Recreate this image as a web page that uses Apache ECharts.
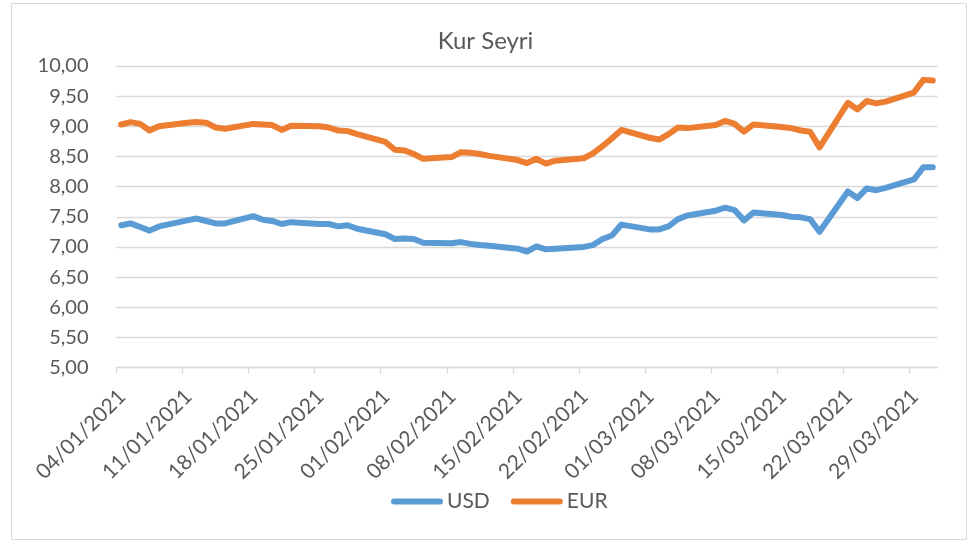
<!DOCTYPE html>
<html>
<head>
<meta charset="utf-8">
<script src="https://cdn.jsdelivr.net/npm/echarts@6/dist/echarts.min.js"></script>
<style>
html,body{margin:0;padding:0;background:#fff;}
#chart{width:971px;height:540px;}
</style>
</head>
<body>
<div id="chart"></div>
<script>
// Business days (dd/MM/yyyy)
const dates = [
  '04/01/2021','05/01/2021','06/01/2021','07/01/2021','08/01/2021',
  '11/01/2021','12/01/2021','13/01/2021','14/01/2021','15/01/2021',
  '18/01/2021','19/01/2021','20/01/2021','21/01/2021','22/01/2021',
  '25/01/2021','26/01/2021','27/01/2021','28/01/2021','29/01/2021',
  '01/02/2021','02/02/2021','03/02/2021','04/02/2021','05/02/2021',
  '08/02/2021','09/02/2021','10/02/2021','11/02/2021','12/02/2021',
  '15/02/2021','16/02/2021','17/02/2021','18/02/2021','19/02/2021',
  '22/02/2021','23/02/2021','24/02/2021','25/02/2021','26/02/2021',
  '01/03/2021','02/03/2021','03/03/2021','04/03/2021','05/03/2021',
  '08/03/2021','09/03/2021','10/03/2021','11/03/2021','12/03/2021',
  '15/03/2021','16/03/2021','17/03/2021','18/03/2021','19/03/2021',
  '22/03/2021','23/03/2021','24/03/2021','25/03/2021','26/03/2021',
  '29/03/2021','30/03/2021','31/03/2021'
];
const usd = [
  7.36, 7.39, 7.33, 7.27, 7.34,
  7.44, 7.47, 7.43, 7.39, 7.39,
  7.51, 7.45, 7.43, 7.38, 7.41,
  7.38, 7.38, 7.34, 7.36, 7.30,
  7.21, 7.13, 7.14, 7.13, 7.07,
  7.06, 7.08, 7.05, 7.03, 7.02,
  6.97, 6.92, 7.01, 6.96, 6.97,
  7.00, 7.03, 7.13, 7.19, 7.37,
  7.29, 7.29, 7.34, 7.46, 7.52,
  7.60, 7.65, 7.61, 7.44, 7.57,
  7.53, 7.50, 7.49, 7.46, 7.25,
  7.92, 7.81, 7.97, 7.94, 7.98,
  8.12, 8.32, 8.32
];
const eur = [
  9.03, 9.07, 9.04, 8.93, 9.00,
  9.06, 9.07, 9.06, 8.98, 8.96,
  9.04, 9.03, 9.02, 8.94, 9.01,
  9.00, 8.98, 8.93, 8.92, 8.87,
  8.74, 8.61, 8.60, 8.54, 8.46,
  8.49, 8.57, 8.56, 8.54, 8.51,
  8.44, 8.39, 8.46, 8.38, 8.43,
  8.47, 8.55, 8.67, 8.80, 8.94,
  8.81, 8.78, 8.87, 8.98, 8.97,
  9.02, 9.09, 9.04, 8.91, 9.03,
  8.99, 8.97, 8.93, 8.91, 8.65,
  9.39, 9.28, 9.42, 9.38, 9.41,
  9.56, 9.77, 9.76
];
const seriesNames = ['USD', 'EUR'];
const axisStart = '04/01/2021';
const axisEnd = '31/03/2021';
const yMin = 5, yMax = 10, yStep = 0.5;
const xStepDays = 7;

function parseD(s){ const p = s.split('/'); return Date.UTC(+p[2], +p[1]-1, +p[0]); }
const DAY = 86400000;
const t0 = parseD(axisStart);
const nDays = Math.round((parseD(axisEnd) - t0) / DAY) + 1;
function pad(n){ return (n < 10 ? '0' : '') + n; }
function fmtDay(i){
  const d = new Date(t0 + i * DAY);
  return pad(d.getUTCDate()) + '/' + pad(d.getUTCMonth()+1) + '/' + d.getUTCFullYear();
}
// Point sits in the middle of its day slot (date axis, between tick marks)
function toPts(vals){ return dates.map((s, i) => [Math.round((parseD(s) - t0) / DAY) + 0.5, vals[i]]); }

const FONT = 'Lato';
const TXT = '#595959';
const GRID = '#D9D9D9';

const chart = echarts.init(document.getElementById('chart'));
chart.setOption({
  animation: false,
  backgroundColor: '#ffffff',
  textStyle: { fontFamily: FONT, color: TXT },
  title: {
    text: 'Kur Seyri', left: 'center', top: 29, padding: 0,
    textStyle: { fontFamily: FONT, fontSize: 24, fontWeight: 'normal', color: TXT }
  },
  graphic: [{
    type: 'rect', left: 9, top: 1, silent: true,
    shape: { width: 955, height: 536 },
    style: { fill: 'none', stroke: GRID, lineWidth: 1 }
  }],
  legend: {
    data: seriesNames, bottom: 28, left: 391, padding: 0,
    icon: 'path://M3,0H49A3,3,0,0,1,49,6H3A3,3,0,0,1,3,0Z',
    itemWidth: 54, itemHeight: 6, itemGap: 21,
    textStyle: { fontFamily: FONT, fontSize: 21, color: TXT, padding: [0,0,0,-2] }
  },
  grid: { left: 116.5, right: 33.5, top: 66, bottom: 172.5 },
  xAxis: {
    type: 'value', min: 0, max: nDays, interval: xStepDays,
    splitLine: { show: false },
    axisLine: { show: true, lineStyle: { color: GRID, width: 1.3 } },
    axisTick: { show: true, length: 6, lineStyle: { color: GRID, width: 1.3 } },
    axisLabel: {
      rotate: 45, margin: 20, fontFamily: FONT, fontSize: 21, color: TXT,
      verticalAlign: 'top', lineHeight: 16,
      showMaxLabel: false,
      formatter: v => (v % xStepDays === 0 && v < nDays) ? fmtDay(v) : ''
    }
  },
  yAxis: {
    type: 'value', min: yMin, max: yMax, interval: yStep,
    axisLine: { show: false }, axisTick: { show: false },
    splitLine: { lineStyle: { color: GRID, width: 1.3 } },
    axisLabel: {
      margin: 28, fontFamily: FONT, fontSize: 20, color: TXT,
      formatter: v => v.toFixed(2).replace('.', ',')
    }
  },
  series: [
    { name: 'USD', type: 'line', data: toPts(usd), showSymbol: false, symbol: 'none',
      color: '#5B9BD5', lineStyle: { width: 6, color: '#5B9BD5', cap: 'round', join: 'round' } },
    { name: 'EUR', type: 'line', data: toPts(eur), showSymbol: false, symbol: 'none',
      color: '#ED7D31', lineStyle: { width: 6, color: '#ED7D31', cap: 'round', join: 'round' } }
  ]
});
</script>
</body>
</html>
